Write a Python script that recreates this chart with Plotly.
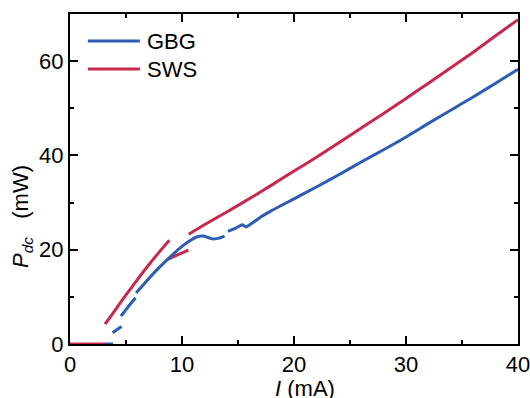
import plotly.graph_objects as go

# ---- data (I in mA, P_dc in mW) ----
# SWS segments
sws_I0 = [0, 3.13]
sws_P0 = [0, 0]
sws_I1 = [3.13, 4.0, 5.0, 6.0, 7.0, 8.0, 8.87]
sws_P1 = [4.2, 7.1, 10.4, 13.6, 16.7, 19.6, 22.0]
sws_I2 = [8.78, 9.6, 10.57]
sws_P2 = [18.0, 18.9, 19.9]
sws_I3 = [10.6, 12, 14, 16, 18, 20, 22, 24, 26, 28, 30, 32, 34, 36, 38, 40]
sws_P3 = [23.3, 25.3, 28.0, 30.8, 33.7, 36.7, 39.6, 42.7, 45.8, 48.9, 52.1, 55.3, 58.6, 61.9, 65.4, 68.8]

# GBG segments
gbg_I0 = [3.1, 3.85]
gbg_P0 = [0, 0]
gbg_I1 = [3.8, 4.6]
gbg_P1 = [2.4, 3.7]
gbg_I2 = [4.55, 5.2, 5.85]
gbg_P2 = [5.9, 7.9, 9.8]
gbg_I3 = [5.9, 7.0, 8.0, 9.0, 10.0, 10.7, 11.3, 11.9, 12.3, 12.7, 13.2, 13.8]
gbg_P3 = [10.8, 13.8, 16.3, 18.6, 20.7, 21.9, 22.7, 22.9, 22.6, 22.3, 22.4, 22.9]
gbg_I4 = [14.1, 14.8, 15.4, 15.7, 16.0, 17, 18, 20, 22, 24, 26, 28, 30, 32, 34, 36, 38, 40]
gbg_P4 = [23.9, 24.6, 25.3, 24.8, 25.2, 26.9, 28.3, 30.8, 33.3, 35.9, 38.6, 41.2, 43.9, 46.8, 49.6, 52.4, 55.3, 58.3]

series_names = ["GBG", "SWS"]
x_tick_vals = [0, 10, 20, 30, 40]
y_tick_vals = [0, 20, 40, 60]

BLUE = "#2d5cb4"
RED = "#c8284b"
COLORS = [BLUE, RED]


def join(segs):
    xs, ys = [], []
    for sx, sy in segs:
        if xs:
            xs.append(None)
            ys.append(None)
        xs += sx
        ys += sy
    return xs, ys


gx, gy = join([(gbg_I0, gbg_P0), (gbg_I1, gbg_P1), (gbg_I2, gbg_P2), (gbg_I3, gbg_P3), (gbg_I4, gbg_P4)])
sx, sy = join([(sws_I0, sws_P0), (sws_I1, sws_P1), (sws_I2, sws_P2), (sws_I3, sws_P3)])

fig = go.Figure()
fig.add_trace(go.Scatter(x=sx, y=sy, mode="lines", name=series_names[1], showlegend=False,
                         line=dict(color=RED, width=3, shape="spline", smoothing=0.5)))
fig.add_trace(go.Scatter(x=gx, y=gy, mode="lines", name=series_names[0], showlegend=False,
                         line=dict(color=BLUE, width=3, shape="spline", smoothing=0.5)))

FONT = "Liberation Sans, Arial, Helvetica, sans-serif"
FS = 22

axis_common = dict(
    showline=True, linecolor="black", linewidth=2, mirror="allticks",
    ticks="inside", ticklen=8, tickwidth=1.5, tickcolor="black",
    showgrid=False, zeroline=False, automargin=False, ticklabeloverflow="allow",
    tickfont=dict(family=FONT, size=FS, color="black"),
)

# manual legend (line sample + label) in the upper-left corner
leg_y = [0.918, 0.833]
for name, col, yy in zip(series_names, COLORS, leg_y):
    fig.add_shape(type="line", xref="paper", yref="paper", x0=0.040, x1=0.156, y0=yy, y1=yy,
                  line=dict(color=col, width=3))
    fig.add_annotation(text=name, xref="paper", yref="paper", x=0.167, y=yy,
                       xanchor="left", yanchor="middle", showarrow=False,
                       font=dict(family=FONT, size=FS, color="black"))

# axis titles
fig.add_annotation(text="<i>P</i><sub><i>dc</i></sub>&nbsp;&nbsp;&nbsp;(mW)", xref="paper", yref="paper",
                   x=-0.107, y=0.385, textangle=-90, xanchor="center", yanchor="middle",
                   showarrow=False, font=dict(family=FONT, size=FS, color="black"))
fig.add_annotation(text="<i>I</i> (mA)", xref="paper", yref="paper",
                   x=0.525, y=-0.135, xanchor="center", yanchor="middle",
                   showarrow=False, font=dict(family=FONT, size=FS, color="black"))

fig.update_layout(
    width=530, height=398,
    margin=dict(l=70, r=12, t=14, b=54),
    paper_bgcolor="white", plot_bgcolor="white",
    font=dict(family=FONT, size=FS, color="black"),
    showlegend=False,
    xaxis=dict(range=[0, 40], tickvals=x_tick_vals,
               minor=dict(ticks="inside", ticklen=4, dtick=5, tickwidth=1.5, tickcolor="black"),
               **axis_common),
    yaxis=dict(range=[0, 70], tickvals=y_tick_vals,
               minor=dict(ticks="inside", ticklen=4, dtick=10, tickwidth=1.5, tickcolor="black"),
               **axis_common),
)

fig.write_html("out.html", config={"displayModeBar": False},
               post_script="document.body.style.margin='0';document.body.style.overflow='hidden';")
